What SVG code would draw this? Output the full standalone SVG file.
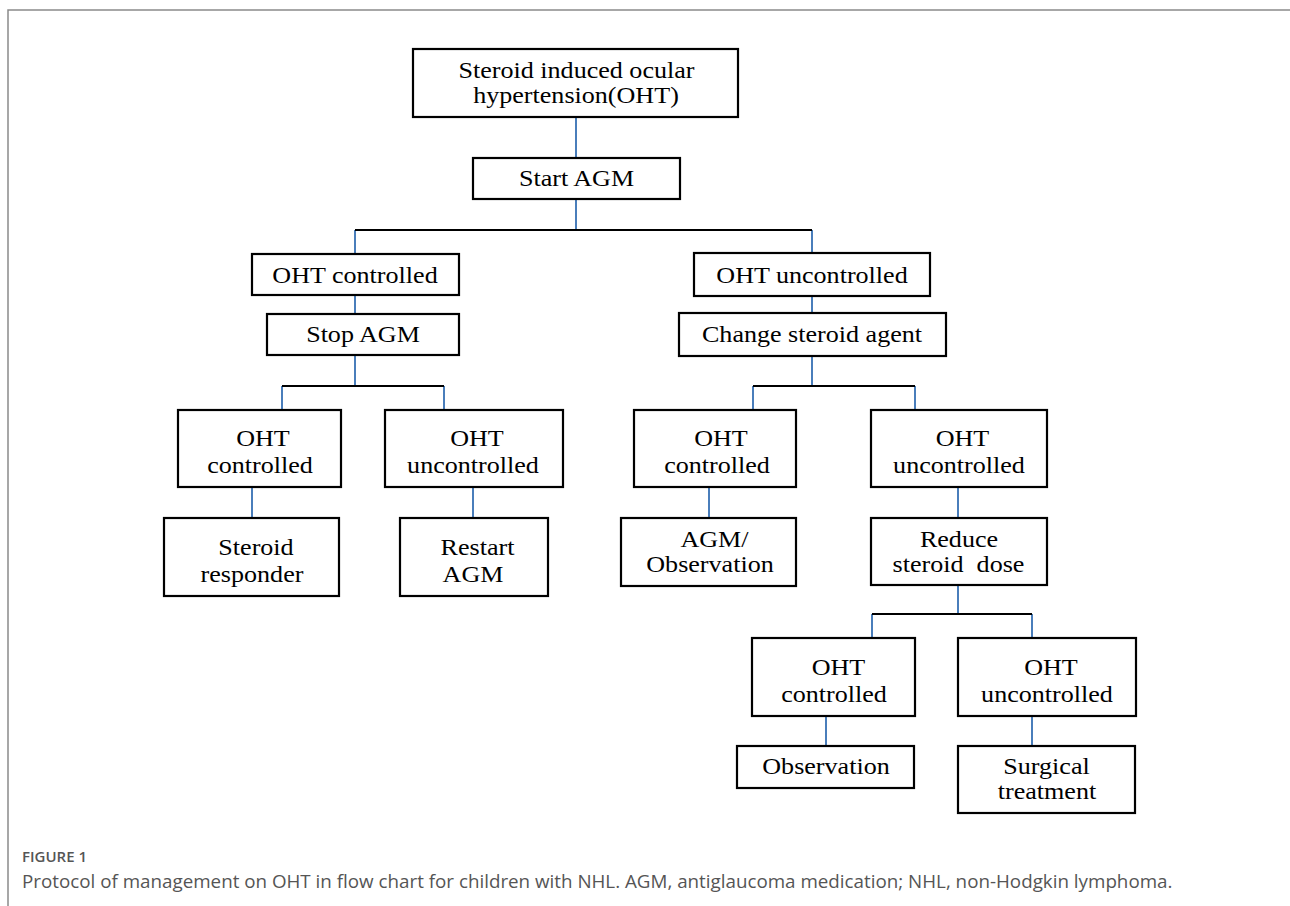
<svg xmlns="http://www.w3.org/2000/svg" width="1290" height="906" viewBox="0 0 1290 906">
<style>
.box{fill:#fff;stroke:#000;stroke-width:2.2}
.t{font-family:"Liberation Serif","Times New Roman",serif;font-size:23.5px;fill:#000;text-anchor:middle}
.v{stroke:#4A7EBB;stroke-width:2;fill:none}
.h{stroke:#000;stroke-width:2;fill:none}
.frame{stroke:#8a8a8a;stroke-width:1.5;fill:none}
.cap1{font-family:"Open Sans","Noto Sans",sans-serif;font-size:15px;fill:#555;font-weight:600}
.cap2{font-family:"Open Sans","Noto Sans",sans-serif;font-size:18.8px;fill:#555}
</style>
<rect width="1290" height="906" fill="#fff"/>
<path class="frame" d="M8,906 V10 H1290"/>
<g id="connectors">
<path class="v" d="M576,117 V158 M576,199 V230 M355,230 V254 M812,230 V253 M355,295 V314 M812,296 V313 M355,355 V386 M282,386 V410 M444,386 V410 M812,356 V386 M753,386 V410 M915,386 V410 M252,487 V518 M473,487 V518 M709,487 V518 M958,487 V518 M958,585 V614 M872,614 V638 M1032,614 V638 M826,716 V746 M1032,716 V746"/>
<path class="h" d="M355,230 H812 M282,386 H444 M753,386 H915 M872,614 H1032"/>
</g>
<g id="n1"><rect class="box" x="413" y="49" width="325" height="68"/>
<text class="t" transform="translate(576.5,78) scale(1.11,1)">Steroid induced ocular</text>
<text class="t" transform="translate(576,103) scale(1.11,1)">hypertension(OHT)</text></g>
<g id="n2"><rect class="box" x="473" y="158" width="207" height="41"/>
<text class="t" transform="translate(576.5,186) scale(1.11,1)">Start AGM</text></g>
<g id="n3"><rect class="box" x="252" y="254" width="207" height="41"/>
<text class="t" transform="translate(355,283) scale(1.11,1)">OHT controlled</text></g>
<g id="n4"><rect class="box" x="694" y="253" width="236" height="43"/>
<text class="t" transform="translate(812,283) scale(1.11,1)">OHT uncontrolled</text></g>
<g id="n5"><rect class="box" x="267" y="314" width="192" height="41"/>
<text class="t" transform="translate(363,342) scale(1.11,1)">Stop AGM</text></g>
<g id="n6"><rect class="box" x="679" y="313" width="267" height="43"/>
<text class="t" transform="translate(812,342) scale(1.11,1)">Change steroid agent</text></g>
<g id="n7"><rect class="box" x="178" y="410" width="163" height="77"/>
<text class="t" transform="translate(263,446) scale(1.11,1)">OHT</text>
<text class="t" transform="translate(260,473) scale(1.11,1)">controlled</text></g>
<g id="n8"><rect class="box" x="385" y="410" width="178" height="77"/>
<text class="t" transform="translate(477,446) scale(1.11,1)">OHT</text>
<text class="t" transform="translate(473,473) scale(1.11,1)">uncontrolled</text></g>
<g id="n9"><rect class="box" x="164" y="518" width="175" height="78"/>
<text class="t" transform="translate(256,555) scale(1.11,1)">Steroid</text>
<text class="t" transform="translate(252,582) scale(1.11,1)">responder</text></g>
<g id="n10"><rect class="box" x="400" y="518" width="148" height="78"/>
<text class="t" transform="translate(477.5,555) scale(1.11,1)">Restart</text>
<text class="t" transform="translate(473,582) scale(1.11,1)">AGM</text></g>
<g id="n11"><rect class="box" x="634" y="410" width="162" height="77"/>
<text class="t" transform="translate(721,446) scale(1.11,1)">OHT</text>
<text class="t" transform="translate(717,473) scale(1.11,1)">controlled</text></g>
<g id="n12"><rect class="box" x="871" y="410" width="176" height="77"/>
<text class="t" transform="translate(962.5,446) scale(1.11,1)">OHT</text>
<text class="t" transform="translate(959,473) scale(1.11,1)">uncontrolled</text></g>
<g id="n13"><rect class="box" x="621" y="518" width="175" height="68"/>
<text class="t" transform="translate(714.5,547) scale(1.11,1)">AGM/</text>
<text class="t" transform="translate(710,572) scale(1.11,1)">Observation</text></g>
<g id="n14"><rect class="box" x="871" y="518" width="176" height="67"/>
<text class="t" transform="translate(959,547) scale(1.11,1)">Reduce</text>
<text class="t" transform="translate(958.5,572) scale(1.11,1)" xml:space="preserve">steroid  dose</text></g>
<g id="n15"><rect class="box" x="752" y="638" width="163" height="78"/>
<text class="t" transform="translate(838.5,675) scale(1.11,1)">OHT</text>
<text class="t" transform="translate(834,702) scale(1.11,1)">controlled</text></g>
<g id="n16"><rect class="box" x="958" y="638" width="178" height="78"/>
<text class="t" transform="translate(1051,675) scale(1.11,1)">OHT</text>
<text class="t" transform="translate(1047,702) scale(1.11,1)">uncontrolled</text></g>
<g id="n17"><rect class="box" x="737" y="746" width="177" height="42"/>
<text class="t" transform="translate(826,774) scale(1.11,1)">Observation</text></g>
<g id="n18"><rect class="box" x="958" y="746" width="177" height="67"/>
<text class="t" transform="translate(1046.5,774) scale(1.11,1)">Surgical</text>
<text class="t" transform="translate(1047,799) scale(1.11,1)">treatment</text></g>
<text class="cap1" x="22" y="862">FIGURE 1</text>
<text class="cap2" x="22" y="888">Protocol of management on OHT in flow chart for children with NHL. AGM, antiglaucoma medication; NHL, non-Hodgkin lymphoma.</text>
</svg>
